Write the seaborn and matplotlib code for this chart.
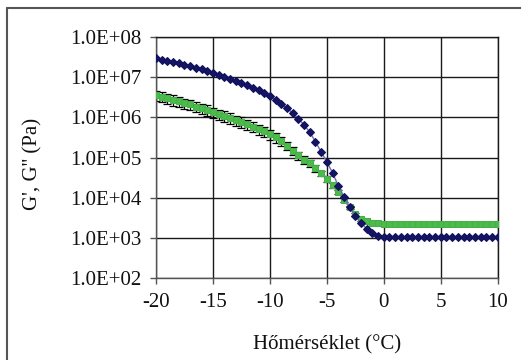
import matplotlib
matplotlib.use("Agg")
import matplotlib.pyplot as plt
from matplotlib.lines import Line2D
from matplotlib.ticker import FixedLocator, FixedFormatter, NullLocator
import numpy as np
import pandas as pd
import seaborn as sns

# Temperature sweep (°C), 0.5 °C steps
temperature = [
    -20.0, -19.5, -19.0, -18.5, -18.0, -17.5, -17.0, -16.5, -16.0, -15.5,
    -15.0, -14.5, -14.0, -13.5, -13.0, -12.5, -12.0, -11.5, -11.0, -10.5,
    -10.0, -9.5, -9.0, -8.5, -8.0, -7.5, -7.0, -6.5, -6.0, -5.5,
    -5.0, -4.5, -4.0, -3.5, -3.0, -2.5, -2.0, -1.5, -1.0, -0.5,
    0.0, 0.5, 1.0, 1.5, 2.0, 2.5, 3.0, 3.5, 4.0, 4.5,
    5.0, 5.5, 6.0, 6.5, 7.0, 7.5, 8.0, 8.5, 9.0, 9.5, 10.0,
]

# Storage modulus G' (Pa)
g_storage = [
    2.95e7, 2.75e7, 2.57e7, 2.40e7, 2.24e7, 2.04e7, 1.86e7, 1.74e7, 1.58e7, 1.41e7,
    1.26e7, 1.15e7, 1.02e7, 9.1e6, 8.1e6, 7.2e6, 6.3e6, 5.5e6, 4.7e6, 4.0e6,
    3.4e6, 2.75e6, 2.19e6, 1.70e6, 1.29e6, 9.3e5, 6.5e5, 4.3e5, 2.5e5, 1.38e5,
    7.9e4, 4.2e4, 2.0e4, 1.07e4, 5.9e3, 3.5e3, 2.4e3, 1.7e3, 1.32e3, 1.15e3,
    1.07e3, 1.07e3, 1.06e3, 1.06e3, 1.07e3, 1.06e3, 1.06e3, 1.07e3, 1.07e3, 1.06e3,
    1.06e3, 1.06e3, 1.07e3, 1.06e3, 1.06e3, 1.06e3, 1.07e3, 1.06e3, 1.06e3, 1.06e3, 1.07e3,
]

# Loss modulus G'' (Pa)
g_loss = [
    3.6e6, 3.3e6, 3.0e6, 2.75e6, 2.5e6, 2.3e6, 2.1e6, 1.86e6, 1.70e6, 1.55e6,
    1.38e6, 1.23e6, 1.10e6, 9.8e5, 8.7e5, 7.8e5, 6.8e5, 5.9e5, 5.1e5, 4.5e5,
    3.8e5, 3.2e5, 2.6e5, 2.0e5, 1.48e5, 1.15e5, 8.9e4, 7.4e4, 5.5e4, 4.1e4,
    3.0e4, 2.1e4, 1.38e4, 9.1e3, 5.8e3, 3.9e3, 2.95e3, 2.6e3, 2.4e3, 2.35e3,
    2.3e3, 2.3e3, 2.3e3, 2.3e3, 2.3e3, 2.3e3, 2.3e3, 2.3e3, 2.3e3, 2.3e3,
    2.3e3, 2.3e3, 2.3e3, 2.3e3, 2.3e3, 2.3e3, 2.3e3, 2.3e3, 2.3e3, 2.3e3, 2.3e3,
]

# Relative standard deviation of G''
g_loss_rel_sd = [
    0.28, 0.28, 0.28, 0.28, 0.28, 0.28, 0.28, 0.28, 0.28, 0.28,
    0.28, 0.28, 0.28, 0.28, 0.28, 0.28, 0.28, 0.28, 0.28, 0.28,
    0.26, 0.26, 0.25, 0.24, 0.23, 0.22, 0.21, 0.20, 0.18, 0.16,
    0.15, 0.14, 0.12, 0.11, 0.10, 0.09, 0.09, 0.08, 0.08, 0.08,
    0.08, 0.08, 0.08, 0.08, 0.08, 0.08, 0.08, 0.08, 0.08, 0.08,
    0.08, 0.08, 0.08, 0.08, 0.08, 0.08, 0.08, 0.08, 0.08, 0.08, 0.08,
]

x_ticks = [-20, -15, -10, -5, 0, 5, 10]
x_tick_labels = ["-20", "-15", "-10", "-5", "0", "5", "10"]
y_ticks = [1e2, 1e3, 1e4, 1e5, 1e6, 1e7, 1e8]
y_tick_labels = ["1.0E+02", "1.0E+03", "1.0E+04", "1.0E+05", "1.0E+06", "1.0E+07", "1.0E+08"]

sns.set_theme(style="white")
plt.rcParams["font.family"] = ["Liberation Serif", "DejaVu Serif"]
plt.rcParams["axes.unicode_minus"] = False

df = pd.DataFrame({"T": temperature, "G1": g_storage, "G2": g_loss})

fig = plt.figure(figsize=(5.21, 3.6), dpi=100)
ax = fig.add_axes([0.2994, 0.2269, 0.6559, 0.6703])

# G'': green squares with black error bars
ax.errorbar(df["T"], df["G2"], yerr=np.array(g_loss_rel_sd) * df["G2"],
            fmt="none", ecolor="black", elinewidth=0.9, capsize=2.8,
            capthick=0.9, zorder=2)
sns.lineplot(data=df, x="T", y="G2", ax=ax, color="#3aa83a", lw=1.2,
             marker="s", markersize=5.0, markeredgecolor="#45b045",
             markerfacecolor="#4cbb4c", zorder=3)

# G': navy diamonds
sns.lineplot(data=df, x="T", y="G1", ax=ax, color="#6f6fb0", lw=1.0,
             marker="D", markersize=4.3, markeredgecolor="#10105a",
             markerfacecolor="#141466", zorder=4)

ax.set_yscale("log")
ax.set_xlim(-20, 10)
ax.set_ylim(1e2, 1e8)
ax.xaxis.set_major_locator(FixedLocator(x_ticks))
ax.xaxis.set_major_formatter(FixedFormatter(x_tick_labels))
ax.yaxis.set_major_locator(FixedLocator(y_ticks))
ax.yaxis.set_major_formatter(FixedFormatter(y_tick_labels))
ax.yaxis.set_minor_locator(NullLocator())

ax.grid(True, which="major", color="#1a1a1a", lw=1.0)
for side in ["left", "bottom", "top", "right"]:
    ax.spines[side].set_color("#555555")
    ax.spines[side].set_linewidth(1.0)
ax.spines["top"].set_color("#1a1a1a")
ax.spines["right"].set_color("#1a1a1a")

ax.tick_params(axis="both", which="major", direction="out", length=4.5,
               width=1.0, color="#555555", pad=6, labelsize=15,
               labelcolor="#111111", bottom=True, left=True)

ax.set_xlabel("Hőmérséklet (°C)", fontsize=15, color="#111111")
ax.set_ylabel("G', G'' (Pa)", fontsize=15, color="#111111")
ax.xaxis.set_label_coords(0.5, -0.235)
ax.yaxis.set_label_coords(-0.331, 0.476)

# Outer chart-area frame
fig.add_artist(Line2D([7 / 521, 7 / 521], [0, 1 - 8 / 360],
                      transform=fig.transFigure, color="#555555", lw=1.5))
fig.add_artist(Line2D([7 / 521, 1], [1 - 8 / 360, 1 - 8 / 360],
                      transform=fig.transFigure, color="#555555", lw=1.5))

fig.savefig("out.png", dpi=100)
